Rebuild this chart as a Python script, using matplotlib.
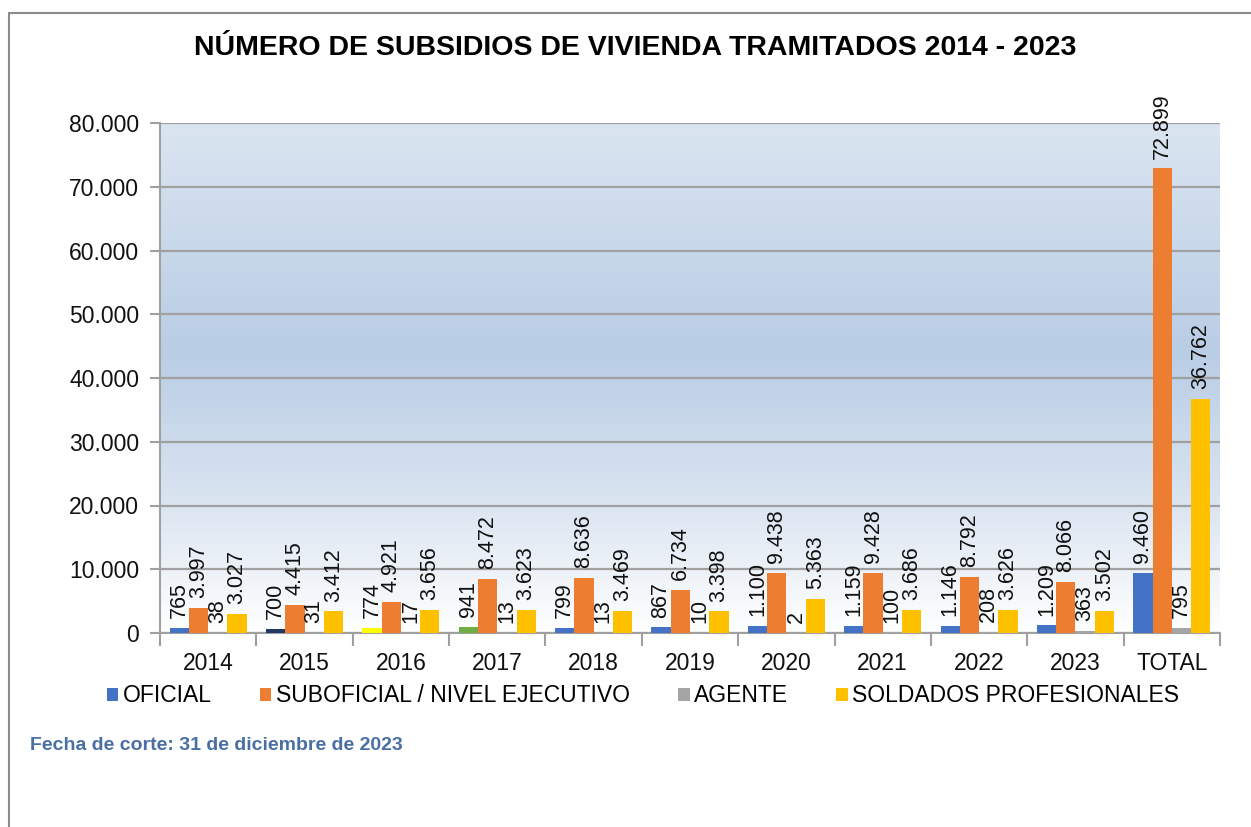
import matplotlib.pyplot as plt
import numpy as np
from matplotlib.colors import LinearSegmentedColormap
from matplotlib.patches import Rectangle, Patch

plt.rcParams['font.family'] = ['Liberation Sans', 'DejaVu Sans']

# Datos
categorias = ['2014', '2015', '2016', '2017', '2018', '2019', '2020', '2021', '2022', '2023', 'TOTAL']
oficial = [765, 700, 774, 941, 799, 867, 1100, 1159, 1146, 1209, 9460]
suboficial = [3997, 4415, 4921, 8472, 8636, 6734, 9438, 9428, 8792, 8066, 72899]
agente = [38, 31, 17, 13, 13, 10, 2, 100, 208, 363, 795]
soldados = [3027, 3412, 3656, 3623, 3469, 3398, 5363, 3686, 3626, 3502, 36762]

series = ['OFICIAL', 'SUBOFICIAL / NIVEL EJECUTIVO', 'AGENTE', 'SOLDADOS PROFESIONALES']
colores = ['#4472C4', '#ED7D31', '#A5A5A5', '#FFC000']
# colores "variados" que Excel puso en algunas barras de OFICIAL
colores_oficial = ['#4472C4', '#1F3864', '#FFFF00', '#70AD47'] + ['#4472C4'] * 7

fig = plt.figure(figsize=(12.51, 8.27), dpi=100)
fig.patches.append(Rectangle((9 / 1251, -0.1), 1.2, 1 - 13 / 827 + 0.1, transform=fig.transFigure,
                             fill=False, edgecolor='#8c8c8c', linewidth=1.5))

ax = fig.add_axes([160 / 1251, 1 - 633 / 827, 1060 / 1251, 510 / 827])

# fondo degradado
cmap = LinearSegmentedColormap.from_list('fondo', [(0, '#ffffff'), (0.25, '#dbe5f1'),
                                                   (0.55, '#b9cde5'), (1, '#dbe5f1')])
grad = np.linspace(0, 1, 256).reshape(-1, 1)
ax.imshow(grad, cmap=cmap, aspect='auto', extent=[0, 1, 0, 1], origin='lower',
          transform=ax.transAxes, zorder=0)

x = np.arange(len(categorias))
w = 0.2
datos = [oficial, suboficial, agente, soldados]
for i, (vals, col) in enumerate(zip(datos, colores)):
    pos = x - 0.3 + i * w
    c = colores_oficial if i == 0 else col
    ax.bar(pos, vals, width=w, color=c, zorder=3)
    for p, v in zip(pos, vals):
        txt = f'{v:,}'.replace(',', '.')
        ax.annotate(txt, (p, v), xytext=(0, 7), textcoords='offset points',
                    rotation=90, ha='center', va='bottom', fontsize=15.5, color='#111111',
                    zorder=4, annotation_clip=False)

ax.set_xlim(-0.5, len(categorias) - 0.5)
ax.set_ylim(0, 80000)
ax.set_yticks(range(0, 80001, 10000))
ax.set_yticklabels([f'{v:,}'.replace(',', '.') for v in range(0, 80001, 10000)])
ax.yaxis.grid(True, color='#a0a0a0', linewidth=1.6, zorder=1)
ax.set_axisbelow(True)

ax.set_xticks(x)
ax.set_xticklabels(categorias)
ax.set_xticks(np.arange(-0.5, len(categorias)), minor=True)
ax.tick_params(axis='x', which='major', length=0, pad=14, labelsize=16.5, colors='#111111')
ax.tick_params(axis='x', which='minor', length=9, width=1.5, color='#a0a0a0')
ax.tick_params(axis='y', length=7, width=1.5, color='#a0a0a0', labelsize=16.5, labelcolor='#111111', pad=8)

for s in ['top', 'right']:
    ax.spines[s].set_visible(False)
for s in ['left', 'bottom']:
    ax.spines[s].set_color('#a0a0a0')
    ax.spines[s].set_linewidth(1.5)

handles = [Patch(facecolor=c, label=s) for c, s in zip(colores, series)]
fig.legend(handles=handles, loc='center', bbox_to_anchor=(0.514, 1 - 696 / 827), ncol=4,
           frameon=False, fontsize=16.5, handlelength=0.5, handleheight=0.5,
           handletextpad=0.2, columnspacing=2.1)

fig.text(0.508, 1 - 48 / 827, 'NÚMERO DE SUBSIDIOS DE VIVIENDA TRAMITADOS 2014 - 2023',
         ha='center', va='center', fontsize=20.5, fontweight='bold')
fig.text(30 / 1251, 1 - 746 / 827, 'Fecha de corte: 31 de diciembre de 2023',
         ha='left', va='center', fontsize=14, fontweight='bold', color='#4a6fa5')

fig.savefig('out.png', dpi=100)
